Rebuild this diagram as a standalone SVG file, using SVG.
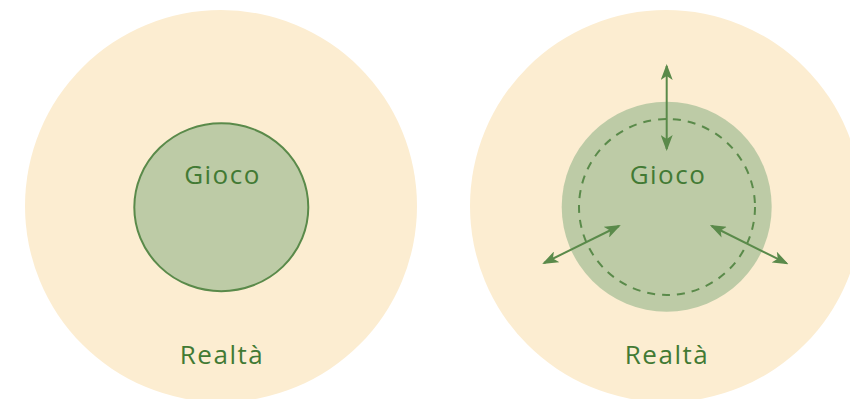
<svg xmlns="http://www.w3.org/2000/svg" width="850" height="399" viewBox="0 0 850 399">
<style>
.outer{fill:#fcedd1}
.inner{fill:#bdcba6}
.lbl{font-family:"Open Sans","Liberation Sans",sans-serif;font-size:26px;letter-spacing:1.5px;fill:#427a34;text-anchor:middle}
.arr{stroke:#5a8a4a;stroke-width:2;fill:none;marker-start:url(#ah);marker-end:url(#ah)}
</style>
<defs>
<marker id="ah" viewBox="0 0 16 12" refX="14" refY="6" markerWidth="16" markerHeight="12" markerUnits="userSpaceOnUse" orient="auto-start-reverse">
<path d="M0,0 L16,6 L0,12 L4,6 Z" fill="#5a8a4a"/>
</marker>
</defs>
<rect width="850" height="399" fill="#ffffff"/>
<g id="left">
<circle class="outer" cx="221" cy="206" r="196"/>
<text class="lbl" x="222" y="364">Realtà</text>
<g id="left-gioco">
<ellipse class="inner" cx="221.3" cy="207.2" rx="87" ry="84" stroke="#5a8a4a" stroke-width="2"/>
<text class="lbl" x="222.5" y="184">Gioco</text>
</g>
</g>
<g id="right">
<circle class="outer" cx="666" cy="206" r="196"/>
<text class="lbl" x="667" y="364">Realtà</text>
<g id="right-gioco">
<circle class="inner" cx="666.7" cy="206.7" r="105"/>
<circle cx="667" cy="207" r="88" fill="none" stroke="#5a8a4a" stroke-width="2" stroke-dasharray="8 7"/>
<text class="lbl" x="668" y="184">Gioco</text>
</g>
</g>
<g id="connectors">
<line class="arr" x1="666.7" y1="66" x2="666.7" y2="149"/>
<line class="arr" x1="544" y1="263" x2="619" y2="226"/>
<line class="arr" x1="711.7" y1="226" x2="786.7" y2="263.3"/>
</g>
</svg>
